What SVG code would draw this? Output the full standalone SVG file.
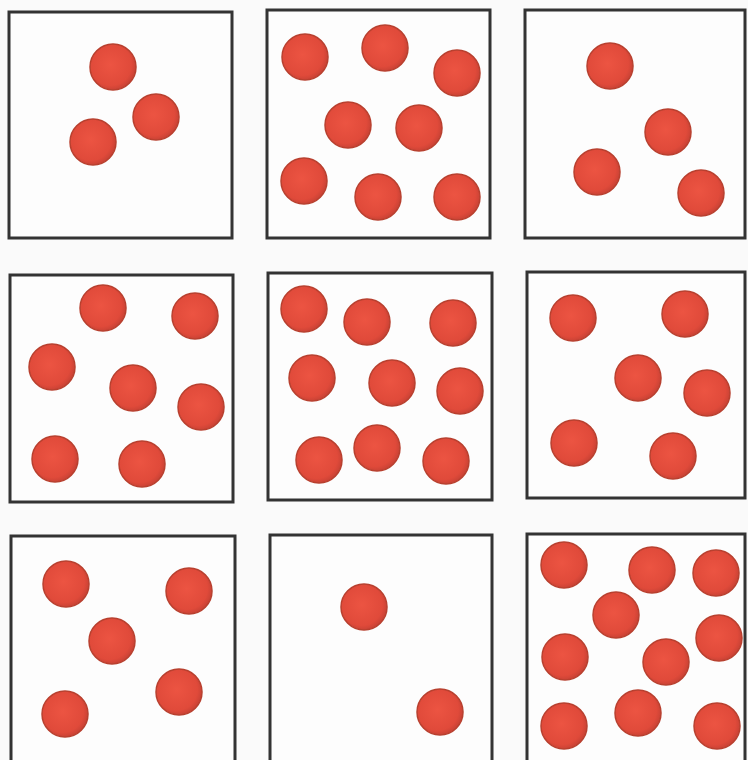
<svg xmlns="http://www.w3.org/2000/svg" width="748" height="760" viewBox="0 0 748 760">
<style>
.box{fill:#fdfdfd;stroke:#333;stroke-width:3}
.dot{fill:url(#rg);stroke:#b8402f;stroke-width:1.5}
</style>
<defs>
<radialGradient id="rg" cx="0.45" cy="0.45" r="0.6">
<stop offset="0" stop-color="#ec5442"/>
<stop offset="0.75" stop-color="#e04a3a"/>
<stop offset="1" stop-color="#c03f33"/>
</radialGradient>
</defs>
<rect width="748" height="760" fill="#fafafa"/>
<g id="panel1">
<rect class="box" x="9" y="12" width="223" height="226"/>
<circle class="dot" cx="113" cy="67" r="23"/>
<circle class="dot" cx="156" cy="117" r="23"/>
<circle class="dot" cx="93" cy="142" r="23"/>
</g>
<g id="panel2">
<rect class="box" x="267" y="10" width="223" height="228"/>
<circle class="dot" cx="305" cy="57" r="23"/>
<circle class="dot" cx="385" cy="48" r="23"/>
<circle class="dot" cx="457" cy="73" r="23"/>
<circle class="dot" cx="348" cy="125" r="23"/>
<circle class="dot" cx="419" cy="128" r="23"/>
<circle class="dot" cx="304" cy="181" r="23"/>
<circle class="dot" cx="378" cy="197" r="23"/>
<circle class="dot" cx="457" cy="197" r="23"/>
</g>
<g id="panel3">
<rect class="box" x="525" y="10" width="220" height="228"/>
<circle class="dot" cx="610" cy="66" r="23"/>
<circle class="dot" cx="668" cy="132" r="23"/>
<circle class="dot" cx="597" cy="172" r="23"/>
<circle class="dot" cx="701" cy="193" r="23"/>
</g>
<g id="panel4">
<rect class="box" x="10" y="275" width="223" height="227"/>
<circle class="dot" cx="103" cy="308" r="23"/>
<circle class="dot" cx="195" cy="316" r="23"/>
<circle class="dot" cx="52" cy="367" r="23"/>
<circle class="dot" cx="133" cy="388" r="23"/>
<circle class="dot" cx="201" cy="407" r="23"/>
<circle class="dot" cx="55" cy="459" r="23"/>
<circle class="dot" cx="142" cy="464" r="23"/>
</g>
<g id="panel5">
<rect class="box" x="268" y="273" width="224" height="227"/>
<circle class="dot" cx="304" cy="309" r="23"/>
<circle class="dot" cx="367" cy="322" r="23"/>
<circle class="dot" cx="453" cy="323" r="23"/>
<circle class="dot" cx="312" cy="378" r="23"/>
<circle class="dot" cx="392" cy="383" r="23"/>
<circle class="dot" cx="460" cy="391" r="23"/>
<circle class="dot" cx="319" cy="460" r="23"/>
<circle class="dot" cx="377" cy="448" r="23"/>
<circle class="dot" cx="446" cy="461" r="23"/>
</g>
<g id="panel6">
<rect class="box" x="527" y="272" width="218" height="226"/>
<circle class="dot" cx="573" cy="318" r="23"/>
<circle class="dot" cx="685" cy="314" r="23"/>
<circle class="dot" cx="638" cy="378" r="23"/>
<circle class="dot" cx="707" cy="393" r="23"/>
<circle class="dot" cx="574" cy="443" r="23"/>
<circle class="dot" cx="673" cy="456" r="23"/>
</g>
<g id="panel7">
<rect class="box" x="11" y="536" width="224" height="240"/>
<circle class="dot" cx="66" cy="584" r="23"/>
<circle class="dot" cx="189" cy="591" r="23"/>
<circle class="dot" cx="112" cy="641" r="23"/>
<circle class="dot" cx="179" cy="692" r="23"/>
<circle class="dot" cx="65" cy="714" r="23"/>
</g>
<g id="panel8">
<rect class="box" x="270" y="535" width="222" height="240"/>
<circle class="dot" cx="364" cy="607" r="23"/>
<circle class="dot" cx="440" cy="712" r="23"/>
</g>
<g id="panel9">
<rect class="box" x="527" y="534" width="218" height="240"/>
<circle class="dot" cx="564" cy="565" r="23"/>
<circle class="dot" cx="652" cy="570" r="23"/>
<circle class="dot" cx="716" cy="573" r="23"/>
<circle class="dot" cx="616" cy="615" r="23"/>
<circle class="dot" cx="719" cy="638" r="23"/>
<circle class="dot" cx="565" cy="657" r="23"/>
<circle class="dot" cx="666" cy="662" r="23"/>
<circle class="dot" cx="638" cy="713" r="23"/>
<circle class="dot" cx="564" cy="726" r="23"/>
<circle class="dot" cx="717" cy="726" r="23"/>
</g>
</svg>
